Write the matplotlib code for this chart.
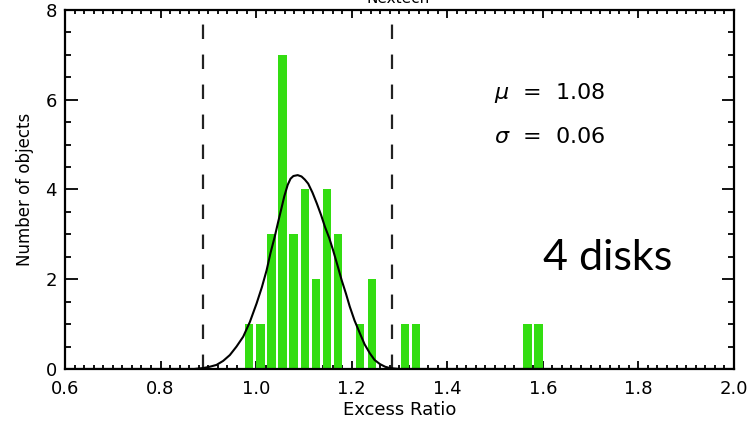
import matplotlib
matplotlib.use('Agg')
import matplotlib.pyplot as plt
from matplotlib.ticker import MultipleLocator

# ── Data ──────────────────────────────────────────────────────────────────────
bin_centers = [0.985, 1.009, 1.032, 1.055, 1.078, 1.102, 1.125, 1.148, 1.172,
               1.218, 1.242, 1.311, 1.335, 1.568, 1.591]
counts      = [1, 1, 3, 7, 3, 4, 2, 4, 3, 1, 2, 1, 1, 1, 1]

# fitted gaussian
curve_x = [0.60, 0.87, 0.889, 0.903, 0.917, 0.931, 0.945, 0.959, 0.973, 0.987,
           1.001, 1.012, 1.022, 1.030, 1.039, 1.046, 1.053, 1.059, 1.066,
           1.072, 1.078, 1.087, 1.095, 1.102, 1.109, 1.118, 1.127, 1.136,
           1.144, 1.153, 1.161, 1.170, 1.179, 1.188, 1.196, 1.206, 1.217,
           1.227, 1.238, 1.248, 1.259, 1.270, 1.280, 1.300, 2.0]
curve_y = [0, 0, 0.02, 0.05, 0.09, 0.18, 0.31, 0.50, 0.72, 1.05,
           1.46, 1.82, 2.20, 2.58, 2.95, 3.27, 3.58, 3.85, 4.10,
           4.24, 4.30, 4.32, 4.29, 4.22, 4.13, 3.93, 3.69, 3.43,
           3.17, 2.92, 2.65, 2.32, 1.98, 1.68, 1.39, 1.08, 0.80,
           0.55, 0.35, 0.20, 0.11, 0.05, 0.02, 0, 0]

cut_lines = [0.889, 1.284]
mu, sigma = 1.08, 0.06

# ── Figure ────────────────────────────────────────────────────────────────────
fig = plt.figure(figsize=(7.52, 4.29), dpi=100)
ax = fig.add_axes([0.0864, 0.1399, 0.8896, 0.8368])

ax.bar(bin_centers, counts, width=0.0175, color='#33dd11', edgecolor='none', zorder=2)
ax.plot(curve_x, curve_y, color='black', linewidth=1.5, zorder=3)
for xv in cut_lines:
    ax.axvline(xv, color='#222222', linewidth=1.6, linestyle=(0, (6.5, 7.0)), zorder=1)

ax.set_xlim(0.6, 2.0)
ax.set_ylim(0, 8)
ax.xaxis.set_minor_locator(MultipleLocator(0.02))
ax.yaxis.set_minor_locator(MultipleLocator(0.5))
ax.set_xticks([0.6, 0.8, 1.0, 1.2, 1.4, 1.6, 1.8, 2.0])
ax.set_xticklabels(['0.6', '0.8', '1.0', '1.2', '1.4', '1.6', '1.8', '2.0'])
ax.set_yticks([0, 2, 4, 6, 8])
ax.set_yticklabels(['0', '2', '4', '6', '8'])

ax.tick_params(axis='both', which='both', direction='in', top=True, right=True,
               width=1.3, colors='black')
ax.tick_params(axis='x', which='major', length=6, labelsize=13, pad=8)
ax.tick_params(axis='x', which='minor', length=3)
ax.tick_params(axis='y', which='major', length=9, labelsize=13, pad=6)
ax.tick_params(axis='y', which='minor', length=4.5)
for spine in ax.spines.values():
    spine.set_linewidth(1.6)

ax.set_xlabel("Excess Ratio", fontsize=13, labelpad=2)
ax.set_ylabel("Number of objects", fontsize=12, labelpad=8)

ax.text(0.641, 0.769, r'$\mu$  =  ' + f'{mu:.2f}', transform=ax.transAxes,
        fontsize=16, va='center', ha='left')
ax.text(0.641, 0.646, r'$\sigma$  =  ' + f'{sigma:.2f}', transform=ax.transAxes,
        fontsize=16, va='center', ha='left')

# title, cut by the top edge as in the original
fig.text(0.53, 1 - 3 / 429, "Nextech", fontsize=11, ha='center', va='baseline')

fig.text(543 / 752, 1 - 270 / 429, "4 disks", fontsize=31, family='Lato',
         ha='left', va='baseline')

plt.savefig("out.png", dpi=100)
plt.close()
